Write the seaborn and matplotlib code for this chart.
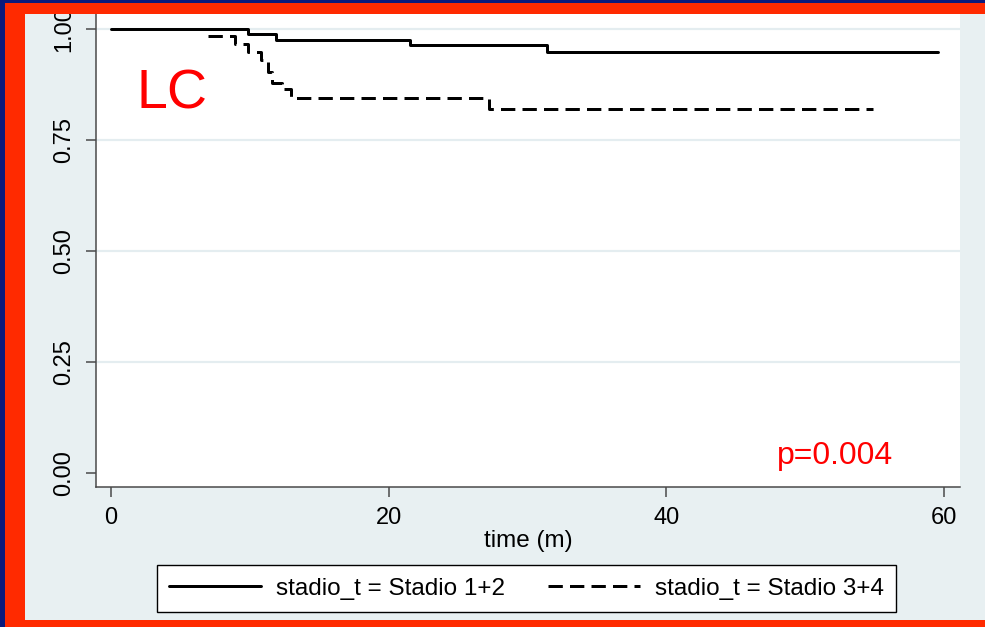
import matplotlib
matplotlib.use("Agg")
import matplotlib.pyplot as plt
from matplotlib.patches import Rectangle
import pandas as pd
import seaborn as sns

# Kaplan-Meier step data (months, survival probability) per stage group
stage12_time = [0, 9.9, 11.9, 21.5, 31.4, 59.6]
stage12_surv = [1.0, 0.988, 0.976, 0.963, 0.948, 0.948]
stage34_time = [7.0, 8.9, 9.85, 10.8, 11.3, 11.6, 12.3, 13.0, 27.25, 54.9]
stage34_surv = [0.984, 0.966, 0.948, 0.931, 0.903, 0.879, 0.866, 0.845, 0.819, 0.819]

group_labels = ["stadio_t = Stadio 1+2", "stadio_t = Stadio 3+4"]
x_ticks = [0, 20, 40, 60]
y_ticks = [0.00, 0.25, 0.50, 0.75, 1.00]
y_tick_labels = ["0.00", "0.25", "0.50", "0.75", "1.00"]
grid_levels = [0.25, 0.50, 0.75, 1.00]
x_label = "time (m)"
panel_tag = "LC"
p_value_text = "p=0.004"

df = pd.DataFrame({
    "time": stage12_time + stage34_time,
    "surv": stage12_surv + stage34_surv,
    "group": [group_labels[0]] * len(stage12_time) + [group_labels[1]] * len(stage34_time),
})

sns.set_style("ticks")
plt.rcParams["font.family"] = ["Liberation Sans", "DejaVu Sans"]
plt.rcParams["text.color"] = "black"

W, H = 985, 627
fig = plt.figure(figsize=(W / 100, H / 100), dpi=100, facecolor="#0c1a7c")


def fx(px):
    return px / W


def fy(py):
    return 1 - py / H


RED = "#ff2a00"
PANEL = "#e8f0f2"
AXIS = "#4a4a4a"

# frame: red border with a light panel inside (kept beneath the axes)
fig.patches.append(Rectangle((fx(5), 0), 1 - fx(5), fy(3), transform=fig.transFigure,
                             facecolor=RED, edgecolor="none", zorder=-2))
fig.patches.append(Rectangle((fx(25), fy(620)), 1 - fx(25), fy(14) - fy(620),
                             transform=fig.transFigure, facecolor=PANEL,
                             edgecolor="none", zorder=-1))

ax = fig.add_axes([fx(96), fy(487), fx(960) - fx(96), fy(14) - fy(487)])
ax.set_facecolor("white")

sns.lineplot(data=df, x="time", y="surv", style="group", style_order=group_labels,
             dashes={group_labels[0]: "", group_labels[1]: (4.8, 2.4)},
             color="black", linewidth=2.15, drawstyle="steps-post",
             estimator=None, legend=False, ax=ax)
curve_lines = list(ax.lines[:2])
for ln in curve_lines:
    ln.set_zorder(3)

for g in grid_levels:
    ax.axhline(g, color="#e4edf0", lw=1.6, zorder=1)

ax.set_xlim(-1.08, 61.15)
ax.set_ylim(-0.0315, 1.0338)
ax.set_xticks(x_ticks)
ax.set_yticks(y_ticks, y_tick_labels)
for lbl in ax.get_yticklabels():
    lbl.set_rotation(90)
    lbl.set_va("center")

for side in ("top", "right"):
    ax.spines[side].set_visible(False)
for side in ("left", "bottom"):
    ax.spines[side].set_color(AXIS)
    ax.spines[side].set_linewidth(1.1)

ax.tick_params(axis="both", direction="out", length=7.2, width=1.1, color=AXIS,
               labelsize=17, labelcolor="black", bottom=True, left=True)
ax.tick_params(axis="x", pad=7.5)
ax.tick_params(axis="y", pad=8)

ax.set_xlabel(x_label, fontsize=17.5, color="black")
ax.xaxis.set_label_coords(0.5, -0.091)
ax.xaxis.label.set_va("top")
ax.set_ylabel("")

ax.text(1.87, 0.822, panel_tag, color="#ff0000", fontsize=40, ha="left", va="baseline")
ax.text(47.96, 0.0196, p_value_text, color="#ff0000", fontsize=23, ha="left", va="baseline")

leg = fig.legend(handles=curve_lines, labels=group_labels, ncol=2, loc="center",
                 bbox_to_anchor=(fx(526.5), fy(588.5)), bbox_transform=fig.transFigure,
                 fontsize=17.5, frameon=True, fancybox=False, shadow=False,
                 edgecolor="black", facecolor="white", framealpha=1,
                 handlelength=3.75, handletextpad=0.62, columnspacing=1.8,
                 borderpad=0.5)
leg.get_frame().set_linewidth(1.0)
for t in leg.get_texts():
    t.set_color("black")

# red top band drawn over the axes so the top label is trimmed by the frame
top_band = Rectangle((fx(5), fy(14)), 1 - fx(5), fy(3) - fy(14), transform=fig.transFigure,
                     facecolor=RED, edgecolor="none", zorder=10)
fig.add_artist(top_band)

fig.savefig("out.png", dpi=100, facecolor=fig.get_facecolor())
